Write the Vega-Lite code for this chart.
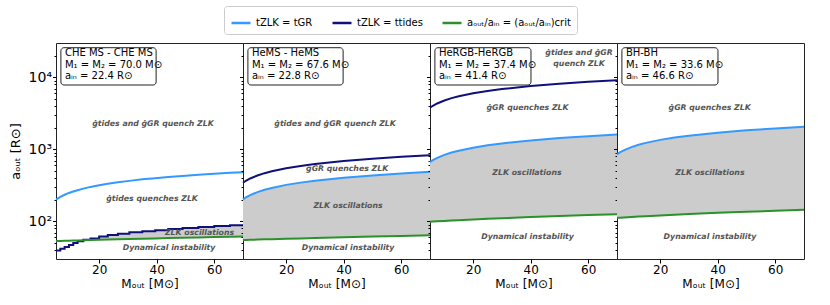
{
"$schema":"https://vega.github.io/schema/vega-lite/v6.json",
"background":"white",
"padding":{"left":8,"top":5,"right":5,"bottom":5},
"config":{
 "font":"DejaVu Sans",
 "view":{"stroke":"#222","strokeWidth":1},
 "axis":{"grid":false,"domain":false,"labelColor":"#000","titleColor":"#000","tickColor":"#000","titleFontWeight":"normal","labelFont":"DejaVu Sans","titleFont":"DejaVu Sans"},
 "axisX":{"labelFontSize":12,"titleFontSize":12,"tickSize":4,"labelPadding":1,"titlePadding":3},
 "axisY":{"labelFontSize":14,"titleFontSize":13,"labelPadding":1,"titlePadding":6,"labelOverlap":false},
 "concat":{"spacing":0}
},
"datasets":{
 "curves":[
  {"p":1,"M":5,"GR":200,"tides":39.5,"crit":53.3},
  {"p":1,"M":6.5,"GR":218,"tides":41.5,"crit":53.5},
  {"p":1,"M":8,"GR":234,"tides":44,"crit":53.7},
  {"p":1,"M":9.5,"GR":248,"tides":47,"crit":53.9},
  {"p":1,"M":11,"GR":260,"tides":50,"crit":54.2},
  {"p":1,"M":12.5,"GR":271,"tides":53,"crit":54.4},
  {"p":1,"M":14.5,"GR":285,"tides":55.5,"crit":54.7},
  {"p":1,"M":17,"GR":301,"tides":58,"crit":55.0},
  {"p":1,"M":20,"GR":317,"tides":61.5,"crit":55.4},
  {"p":1,"M":23,"GR":333,"tides":64.5,"crit":55.9},
  {"p":1,"M":26.5,"GR":349,"tides":67.5,"crit":56.3},
  {"p":1,"M":30.5,"GR":365,"tides":70.5,"crit":56.9},
  {"p":1,"M":35,"GR":383,"tides":73,"crit":57.5},
  {"p":1,"M":39.5,"GR":398,"tides":75.5,"crit":58.0},
  {"p":1,"M":44,"GR":413,"tides":78.5,"crit":58.6},
  {"p":1,"M":49,"GR":428,"tides":81,"crit":59.3},
  {"p":1,"M":54.5,"GR":444,"tides":83.5,"crit":59.9},
  {"p":1,"M":60,"GR":458,"tides":86,"crit":60.6},
  {"p":1,"M":65.5,"GR":472,"tides":88.5,"crit":61.3},
  {"p":1,"M":70,"GR":482,"tides":88.5,"crit":61.8},
  {"p":2,"M":5,"GR":202,"tides":344,"crit":55.0},
  {"p":2,"M":6,"GR":215,"tides":366,"crit":55.2},
  {"p":2,"M":7.5,"GR":231,"tides":394,"crit":55.4},
  {"p":2,"M":10,"GR":255,"tides":433,"crit":55.8},
  {"p":2,"M":12.5,"GR":274,"tides":467,"crit":56.2},
  {"p":2,"M":15,"GR":291,"tides":496,"crit":56.5},
  {"p":2,"M":20,"GR":321,"tides":546,"crit":57.3},
  {"p":2,"M":25,"GR":345,"tides":588,"crit":58.0},
  {"p":2,"M":30,"GR":367,"tides":625,"crit":58.7},
  {"p":2,"M":40,"GR":404,"tides":688,"crit":60.1},
  {"p":2,"M":50,"GR":435,"tides":741,"crit":61.5},
  {"p":2,"M":60,"GR":462,"tides":788,"crit":62.8},
  {"p":2,"M":70,"GR":487,"tides":829,"crit":64.1},
  {"p":3,"M":5,"GR":665,"tides":3790,"crit":99.0},
  {"p":3,"M":6,"GR":707,"tides":4028,"crit":99.5},
  {"p":3,"M":7.5,"GR":761,"tides":4338,"crit":100.3},
  {"p":3,"M":10,"GR":838,"tides":4775,"crit":101.5},
  {"p":3,"M":12.5,"GR":903,"tides":5144,"crit":102.7},
  {"p":3,"M":15,"GR":959,"tides":5466,"crit":103.8},
  {"p":3,"M":20,"GR":1056,"tides":6016,"crit":106.1},
  {"p":3,"M":25,"GR":1137,"tides":6481,"crit":108.3},
  {"p":3,"M":30,"GR":1208,"tides":6887,"crit":110.5},
  {"p":3,"M":40,"GR":1330,"tides":7580,"crit":114.7},
  {"p":3,"M":50,"GR":1433,"tides":8165,"crit":118.6},
  {"p":3,"M":60,"GR":1522,"tides":8677,"crit":122.4},
  {"p":3,"M":70,"GR":1603,"tides":9134,"crit":126.0},
  {"p":4,"M":5,"GR":853,"crit":112.0},
  {"p":4,"M":6,"GR":906,"crit":112.6},
  {"p":4,"M":7.5,"GR":976,"crit":113.5},
  {"p":4,"M":10,"GR":1075,"crit":115.0},
  {"p":4,"M":12.5,"GR":1158,"crit":116.5},
  {"p":4,"M":15,"GR":1230,"crit":117.9},
  {"p":4,"M":20,"GR":1354,"crit":120.7},
  {"p":4,"M":25,"GR":1459,"crit":123.5},
  {"p":4,"M":30,"GR":1550,"crit":126.1},
  {"p":4,"M":40,"GR":1706,"crit":131.2},
  {"p":4,"M":50,"GR":1838,"crit":135.9},
  {"p":4,"M":60,"GR":1953,"crit":140.5},
  {"p":4,"M":70,"GR":2056,"crit":144.8}
 ],
 "notes":[
  {"p":1,"M":38.7,"a":2270,"t":"ġtides and ġGR quench ZLK"},
  {"p":1,"M":38.4,"a":202,"t":"ġtides quenches ZLK"},
  {"p":1,"M":54.9,"a":68,"t":"ZLK oscillations"},
  {"p":1,"M":44.3,"a":42.6,"t":"Dynamical instability"},
  {"p":2,"M":37.0,"a":2270,"t":"ġtides and ġGR quench ZLK"},
  {"p":2,"M":41.2,"a":538,"t":"ġGR quenches ZLK"},
  {"p":2,"M":41.5,"a":163,"t":"ZLK oscillations"},
  {"p":2,"M":41.5,"a":42,"t":"Dynamical instability"},
  {"p":3,"M":56.8,"a":21980,"t":"ġtides and ġGR"},
  {"p":3,"M":56.8,"a":15170,"t":"quench ZLK"},
  {"p":3,"M":38.9,"a":3790,"t":"ġGR quenches ZLK"},
  {"p":3,"M":38.7,"a":474,"t":"ZLK oscillations"},
  {"p":3,"M":38.9,"a":60.6,"t":"Dynamical instability"},
  {"p":4,"M":37.2,"a":3790,"t":"ġGR quenches ZLK"},
  {"p":4,"M":37.3,"a":474,"t":"ZLK oscillations"},
  {"p":4,"M":37.3,"a":60.6,"t":"Dynamical instability"}
 ],
 "boxes":[
  {"p":1,"M0":6.7,"M1":39.8,"a0":7830,"a1":25800},
  {"p":2,"M0":6.7,"M1":39.8,"a0":7830,"a1":25800},
  {"p":3,"M0":6.7,"M1":40.1,"a0":7830,"a1":25800},
  {"p":4,"M0":6.7,"M1":40.1,"a0":7830,"a1":25800}
 ],
 "labels":[
  {"p":1,"M":8.1,"a":21600,"t":"CHE MS - CHE MS"},
  {"p":1,"M":8.1,"a":14840,"t":"M₁ = M₂ = 70.0 M⊙"},
  {"p":1,"M":8.1,"a":10440,"t":"aᵢₙ = 22.4 R⊙"},
  {"p":2,"M":8.1,"a":21600,"t":"HeMS - HeMS"},
  {"p":2,"M":8.1,"a":14840,"t":"M₁ = M₂ = 67.6 M⊙"},
  {"p":2,"M":8.1,"a":10440,"t":"aᵢₙ = 22.8 R⊙"},
  {"p":3,"M":8.1,"a":21600,"t":"HeRGB-HeRGB"},
  {"p":3,"M":8.1,"a":14840,"t":"M₁ = M₂ = 37.4 M⊙"},
  {"p":3,"M":8.1,"a":10440,"t":"aᵢₙ = 41.4 R⊙"},
  {"p":4,"M":8.1,"a":21600,"t":"BH-BH"},
  {"p":4,"M":8.1,"a":14840,"t":"M₁ = M₂ = 33.6 M⊙"},
  {"p":4,"M":8.1,"a":10440,"t":"aᵢₙ = 46.6 R⊙"}
 ]
},
"bounds":"flush",
"hconcat":[
 {"width":187,"height":216,"layer":[
  {"data":{"name":"curves"},"transform":[{"filter":"datum.p==1 && datum.M>=14.5"}],
   "mark":{"type":"area","color":"#cccccc","interpolate":"step-after"},
   "encoding":{
    "x":{"field":"M","type":"quantitative","scale":{"domain":[5,70],"nice":false,"zero":false},"axis":{"values":[20,40,60],"title":"Mₒᵤₜ [M⊙]"}},
    "y":{"field":"crit","type":"quantitative","scale":{"type":"log","domain":[30,30000],"nice":false},"axis":{"values":[40,50,60,70,80,90,100,200,300,400,500,600,700,800,900,1000,2000,3000,4000,5000,6000,7000,8000,9000,10000,20000],"labelExpr":"datum.value==100?'10²':datum.value==1000?'10³':datum.value==10000?'10⁴':''","tickSize":{"condition":{"test":"datum.value==100||datum.value==1000||datum.value==10000","value":3.5},"value":2},"title":"aₒᵤₜ [R⊙]"}},
    "y2":{"field":"tides"}}},
  {"data":{"name":"curves"},"transform":[{"filter":"datum.p==1"}],"mark":{"type":"line","strokeWidth":2},
   "encoding":{"x":{"field":"M","type":"quantitative"},"y":{"field":"GR","type":"quantitative"},
    "color":{"datum":"tZLK = tGR","type":"nominal","scale":{"domain":["tZLK = tGR","tZLK = ttides","aₒᵤₜ/aᵢₙ = (aₒᵤₜ/aᵢₙ)crit"],"range":["#3399ff","#10107a","#2b912b"]},
     "legend":{"orient":"none","legendX":168,"legendY":-37,"direction":"horizontal","title":null,"symbolType":"stroke","symbolStrokeWidth":2.5,"symbolSize":361,"labelFontSize":10,"columnPadding":14,"padding":6,"strokeColor":"#cccccc","cornerRadius":3,"fillColor":"white","labelLimit":300}}}},
  {"data":{"name":"curves"},"transform":[{"filter":"datum.p==1"}],"mark":{"type":"line","strokeWidth":2,"interpolate":"step-after"},
   "encoding":{"x":{"field":"M","type":"quantitative"},"y":{"field":"tides","type":"quantitative"},"color":{"datum":"tZLK = ttides","type":"nominal"}}},
  {"data":{"name":"curves"},"transform":[{"filter":"datum.p==1"}],"mark":{"type":"line","strokeWidth":2},
   "encoding":{"x":{"field":"M","type":"quantitative"},"y":{"field":"crit","type":"quantitative"},"color":{"datum":"aₒᵤₜ/aᵢₙ = (aₒᵤₜ/aᵢₙ)crit","type":"nominal"}}},
  {"data":{"name":"boxes"},"transform":[{"filter":"datum.p==1"}],"mark":{"type":"rect","fill":"white","stroke":"#222","strokeWidth":1,"cornerRadius":3},
   "encoding":{"x":{"field":"M0","type":"quantitative"},"x2":{"field":"M1"},"y":{"field":"a0","type":"quantitative"},"y2":{"field":"a1"}}},
  {"data":{"name":"labels"},"transform":[{"filter":"datum.p==1"}],"mark":{"type":"text","align":"left","baseline":"middle","fontSize":10,"color":"#000"},
   "encoding":{"x":{"field":"M","type":"quantitative"},"y":{"field":"a","type":"quantitative"},"text":{"field":"t"}}},
  {"data":{"name":"notes"},"transform":[{"filter":"datum.p==1"}],"mark":{"type":"text","fontSize":7.8,"fontStyle":"italic","fontWeight":"bold","color":"#555"},
   "encoding":{"x":{"field":"M","type":"quantitative"},"y":{"field":"a","type":"quantitative"},"text":{"field":"t"}}}
 ]},
 {"width":187,"height":216,"layer":[
  {"data":{"name":"curves"},"transform":[{"filter":"datum.p==2"}],
   "mark":{"type":"area","color":"#cccccc"},
   "encoding":{
    "x":{"field":"M","type":"quantitative","scale":{"domain":[5,70],"nice":false,"zero":false},"axis":{"values":[20,40,60],"title":"Mₒᵤₜ [M⊙]"}},
    "y":{"field":"crit","type":"quantitative","scale":{"type":"log","domain":[30,30000],"nice":false},"axis":{"values":[40,50,60,70,80,90,100,200,300,400,500,600,700,800,900,1000,2000,3000,4000,5000,6000,7000,8000,9000,10000,20000],"labels":false,"tickSize":{"condition":{"test":"datum.value==100||datum.value==1000||datum.value==10000","value":3.5},"value":2},"title":null}},
    "y2":{"field":"GR"}}},
  {"data":{"name":"curves"},"transform":[{"filter":"datum.p==2"}],"mark":{"type":"line","strokeWidth":2},
   "encoding":{"x":{"field":"M","type":"quantitative"},"y":{"field":"GR","type":"quantitative"},"color":{"datum":"tZLK = tGR","type":"nominal"}}},
  {"data":{"name":"curves"},"transform":[{"filter":"datum.p==2"}],"mark":{"type":"line","strokeWidth":2},
   "encoding":{"x":{"field":"M","type":"quantitative"},"y":{"field":"tides","type":"quantitative"},"color":{"datum":"tZLK = ttides","type":"nominal"}}},
  {"data":{"name":"curves"},"transform":[{"filter":"datum.p==2"}],"mark":{"type":"line","strokeWidth":2},
   "encoding":{"x":{"field":"M","type":"quantitative"},"y":{"field":"crit","type":"quantitative"},"color":{"datum":"aₒᵤₜ/aᵢₙ = (aₒᵤₜ/aᵢₙ)crit","type":"nominal"}}},
  {"data":{"name":"boxes"},"transform":[{"filter":"datum.p==2"}],"mark":{"type":"rect","fill":"white","stroke":"#222","strokeWidth":1,"cornerRadius":3},
   "encoding":{"x":{"field":"M0","type":"quantitative"},"x2":{"field":"M1"},"y":{"field":"a0","type":"quantitative"},"y2":{"field":"a1"}}},
  {"data":{"name":"labels"},"transform":[{"filter":"datum.p==2"}],"mark":{"type":"text","align":"left","baseline":"middle","fontSize":10,"color":"#000"},
   "encoding":{"x":{"field":"M","type":"quantitative"},"y":{"field":"a","type":"quantitative"},"text":{"field":"t"}}},
  {"data":{"name":"notes"},"transform":[{"filter":"datum.p==2"}],"mark":{"type":"text","fontSize":7.8,"fontStyle":"italic","fontWeight":"bold","color":"#555"},
   "encoding":{"x":{"field":"M","type":"quantitative"},"y":{"field":"a","type":"quantitative"},"text":{"field":"t"}}}
 ]},
 {"width":187,"height":216,"layer":[
  {"data":{"name":"curves"},"transform":[{"filter":"datum.p==3"}],
   "mark":{"type":"area","color":"#cccccc"},
   "encoding":{
    "x":{"field":"M","type":"quantitative","scale":{"domain":[5,70],"nice":false,"zero":false},"axis":{"values":[20,40,60],"title":"Mₒᵤₜ [M⊙]"}},
    "y":{"field":"crit","type":"quantitative","scale":{"type":"log","domain":[30,30000],"nice":false},"axis":{"values":[40,50,60,70,80,90,100,200,300,400,500,600,700,800,900,1000,2000,3000,4000,5000,6000,7000,8000,9000,10000,20000],"labels":false,"tickSize":{"condition":{"test":"datum.value==100||datum.value==1000||datum.value==10000","value":3.5},"value":2},"title":null}},
    "y2":{"field":"GR"}}},
  {"data":{"name":"curves"},"transform":[{"filter":"datum.p==3"}],"mark":{"type":"line","strokeWidth":2},
   "encoding":{"x":{"field":"M","type":"quantitative"},"y":{"field":"GR","type":"quantitative"},"color":{"datum":"tZLK = tGR","type":"nominal"}}},
  {"data":{"name":"curves"},"transform":[{"filter":"datum.p==3"}],"mark":{"type":"line","strokeWidth":2},
   "encoding":{"x":{"field":"M","type":"quantitative"},"y":{"field":"tides","type":"quantitative"},"color":{"datum":"tZLK = ttides","type":"nominal"}}},
  {"data":{"name":"curves"},"transform":[{"filter":"datum.p==3"}],"mark":{"type":"line","strokeWidth":2},
   "encoding":{"x":{"field":"M","type":"quantitative"},"y":{"field":"crit","type":"quantitative"},"color":{"datum":"aₒᵤₜ/aᵢₙ = (aₒᵤₜ/aᵢₙ)crit","type":"nominal"}}},
  {"data":{"name":"boxes"},"transform":[{"filter":"datum.p==3"}],"mark":{"type":"rect","fill":"white","stroke":"#222","strokeWidth":1,"cornerRadius":3},
   "encoding":{"x":{"field":"M0","type":"quantitative"},"x2":{"field":"M1"},"y":{"field":"a0","type":"quantitative"},"y2":{"field":"a1"}}},
  {"data":{"name":"labels"},"transform":[{"filter":"datum.p==3"}],"mark":{"type":"text","align":"left","baseline":"middle","fontSize":10,"color":"#000"},
   "encoding":{"x":{"field":"M","type":"quantitative"},"y":{"field":"a","type":"quantitative"},"text":{"field":"t"}}},
  {"data":{"name":"notes"},"transform":[{"filter":"datum.p==3"}],"mark":{"type":"text","fontSize":7.8,"fontStyle":"italic","fontWeight":"bold","color":"#555"},
   "encoding":{"x":{"field":"M","type":"quantitative"},"y":{"field":"a","type":"quantitative"},"text":{"field":"t"}}}
 ]},
 {"width":187,"height":216,"layer":[
  {"data":{"name":"curves"},"transform":[{"filter":"datum.p==4"}],
   "mark":{"type":"area","color":"#cccccc"},
   "encoding":{
    "x":{"field":"M","type":"quantitative","scale":{"domain":[5,70],"nice":false,"zero":false},"axis":{"values":[20,40,60],"title":"Mₒᵤₜ [M⊙]"}},
    "y":{"field":"crit","type":"quantitative","scale":{"type":"log","domain":[30,30000],"nice":false},"axis":{"values":[40,50,60,70,80,90,100,200,300,400,500,600,700,800,900,1000,2000,3000,4000,5000,6000,7000,8000,9000,10000,20000],"labels":false,"tickSize":{"condition":{"test":"datum.value==100||datum.value==1000||datum.value==10000","value":3.5},"value":2},"title":null}},
    "y2":{"field":"GR"}}},
  {"data":{"name":"curves"},"transform":[{"filter":"datum.p==4"}],"mark":{"type":"line","strokeWidth":2},
   "encoding":{"x":{"field":"M","type":"quantitative"},"y":{"field":"GR","type":"quantitative"},"color":{"datum":"tZLK = tGR","type":"nominal"}}},
  {"data":{"name":"curves"},"transform":[{"filter":"datum.p==4"}],"mark":{"type":"line","strokeWidth":2},
   "encoding":{"x":{"field":"M","type":"quantitative"},"y":{"field":"crit","type":"quantitative"},"color":{"datum":"aₒᵤₜ/aᵢₙ = (aₒᵤₜ/aᵢₙ)crit","type":"nominal"}}},
  {"data":{"name":"boxes"},"transform":[{"filter":"datum.p==4"}],"mark":{"type":"rect","fill":"white","stroke":"#222","strokeWidth":1,"cornerRadius":3},
   "encoding":{"x":{"field":"M0","type":"quantitative"},"x2":{"field":"M1"},"y":{"field":"a0","type":"quantitative"},"y2":{"field":"a1"}}},
  {"data":{"name":"labels"},"transform":[{"filter":"datum.p==4"}],"mark":{"type":"text","align":"left","baseline":"middle","fontSize":10,"color":"#000"},
   "encoding":{"x":{"field":"M","type":"quantitative"},"y":{"field":"a","type":"quantitative"},"text":{"field":"t"}}},
  {"data":{"name":"notes"},"transform":[{"filter":"datum.p==4"}],"mark":{"type":"text","fontSize":7.8,"fontStyle":"italic","fontWeight":"bold","color":"#555"},
   "encoding":{"x":{"field":"M","type":"quantitative"},"y":{"field":"a","type":"quantitative"},"text":{"field":"t"}}}
 ]}
]
}
